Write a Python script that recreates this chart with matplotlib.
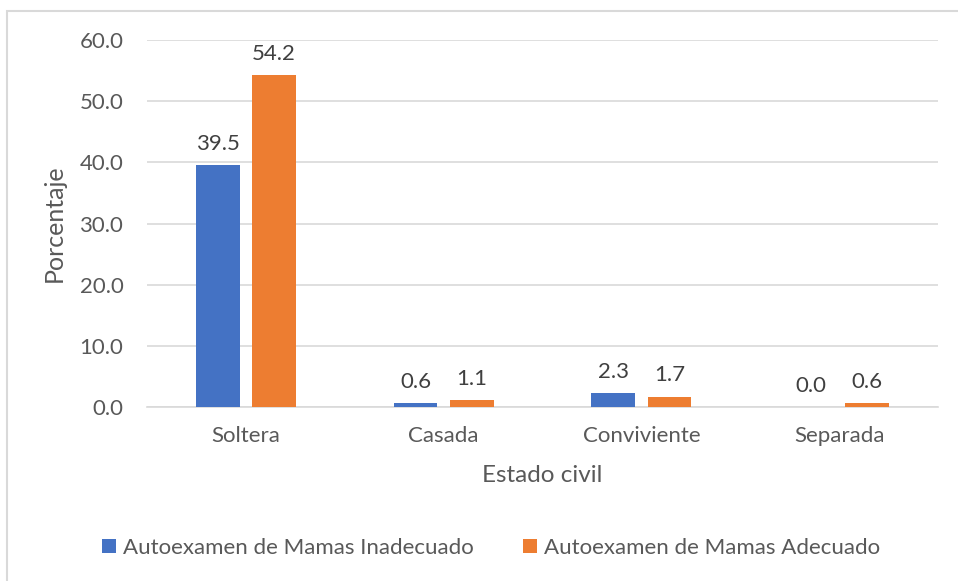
import matplotlib.pyplot as plt
import numpy as np
from matplotlib.patches import Rectangle

# Data
categorias = ["Soltera", "Casada", "Conviviente", "Separada"]
inadecuado = [39.5, 0.6, 2.3, 0.0]
adecuado = [54.2, 1.1, 1.7, 0.6]
series_names = ["Autoexamen de Mamas Inadecuado", "Autoexamen de Mamas Adecuado"]

plt.rcParams['font.family'] = ['Lato', 'DejaVu Sans']

W, H = 958, 581
fig = plt.figure(figsize=(W / 100, H / 100), dpi=100)

# light frame around the chart
fig.patches.append(Rectangle((7 / W, -0.01), 1.0, (H - 11) / H + 0.01, transform=fig.transFigure,
                             fill=False, edgecolor="#D9D9D9", linewidth=1.5))

ax = fig.add_axes([147 / W, (H - 407) / H, (938 - 147) / W, (407 - 40) / H])

x = np.arange(len(categorias))
bw = 0.222
off = 0.142
b1 = ax.bar(x - off, inadecuado, bw, color="#4472C4", label=series_names[0], zorder=3)
b2 = ax.bar(x + off, adecuado, bw, color="#ED7D31", label=series_names[1], zorder=3)

for bars, vals in [(b1, inadecuado), (b2, adecuado)]:
    for rect, v in zip(bars, vals):
        ax.annotate(f"{v:.1f}", (rect.get_x() + rect.get_width() / 2, v),
                    xytext=(0, 8), textcoords="offset points", ha="center", va="bottom",
                    fontsize=16, color="#404040")

ax.set_xlim(-0.5, 3.5)
ax.set_ylim(0, 60)
ax.set_yticks(np.arange(0, 61, 10))
ax.set_yticklabels([f"{t:.1f}" for t in np.arange(0, 61, 10)])
ax.set_xticks(x)
ax.set_xticklabels(categorias)
ax.tick_params(axis="both", length=0, labelsize=16, labelcolor="#595959")
ax.tick_params(axis="y", pad=17)
ax.tick_params(axis="x", pad=14)
ax.grid(axis="y", color="#D9D9D9", linewidth=1.2, zorder=0)
for s in ["top", "right", "left"]:
    ax.spines[s].set_visible(False)
ax.spines["bottom"].set_color("#D9D9D9")
ax.spines["bottom"].set_linewidth(1.2)

ax.set_xlabel("Estado civil", fontsize=17.5, color="#595959", labelpad=13)
ax.set_ylabel("Porcentaje", fontsize=18, color="#595959", labelpad=10)

fig.legend(handles=[b1, b2], loc="center", bbox_to_anchor=(491 / W, 1 - 548 / H), ncol=2,
           frameon=False, fontsize=16, labelcolor="#595959", handlelength=0.62, handleheight=0.62,
           handletextpad=0.3, columnspacing=2.25)

fig.savefig("out.png", dpi=100)
